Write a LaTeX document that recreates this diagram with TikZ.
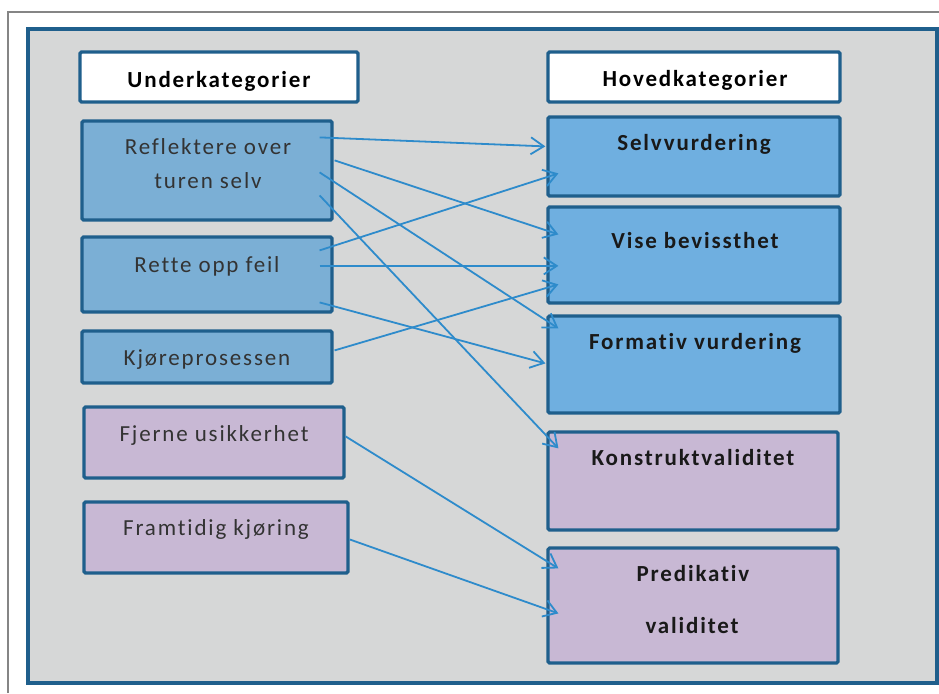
\documentclass[tikz,border=0pt]{standalone}
\usepackage{fontspec}
\setmainfont{Carlito}[LetterSpace=8, Ligatures=NoCommon]
\usetikzlibrary{arrows.meta,calc}

\definecolor{framegray}{HTML}{858585}
\definecolor{panelfill}{HTML}{D6D7D7}
\definecolor{edgeblue}{HTML}{1F5F8C}
\definecolor{subblue}{HTML}{7BAFD5}
\definecolor{mainblue}{HTML}{6FAFE0}
\definecolor{lilac}{HTML}{C8B8D4}
\definecolor{linkblue}{HTML}{2E8BCB}
\definecolor{subtext}{HTML}{333333}

\tikzset{
  box/.style={draw=edgeblue, line width=3.2pt, rounded corners=1.5pt, inner sep=0pt},
  headbox/.style={box, fill=white},
  subbox/.style={box, fill=subblue},
  mainbox/.style={box, fill=mainblue},
  valbox/.style={box, fill=lilac},
  headtxt/.style={anchor=base, inner sep=0pt, font=\fontsize{23}{27}\selectfont\bfseries, text=black},
  subtxt/.style={anchor=base, inner sep=0pt, font=\fontsize{23}{27}\selectfont, text=subtext},
  maintxt/.style={anchor=base, inner sep=0pt, font=\fontsize{23}{27}\selectfont\bfseries, text=black!90},
  link/.style={draw=linkblue, line width=1.8pt, -{Straight Barb[length=13pt,width=17pt,line width=1.8pt]}}
}

\begin{document}
\begin{tikzpicture}[x=1pt, y=-1pt]
  \useasboundingbox (0,0) rectangle (939,693);

  % outer page frame and the panel
  \draw[framegray, line width=2pt] (8,693) -- (8,12) -- (939,12);
  \draw[edgeblue, fill=panelfill, line width=3.5pt] (28,29) rectangle (937,683);

  % column headers
  \node[headbox, minimum width=278, minimum height=50] (uhead) at (219,77) {};
  \node[headtxt] (uheadt) at (219,87) {Underkategorier};
  \node[headbox, minimum width=292, minimum height=50] (hhead) at (694,77) {};
  \node[headtxt] (hheadt) at (695,86) {Hovedkategorier};

  % sub categories
  \node[subbox, minimum width=250, minimum height=99] (refl) at (207,170.5) {};
  \node[subtxt] (reflt1) at (208,154) {Reflektere over};
  \node[subtxt] (reflt2) at (208,188) {turen selv};
  \node[subbox, minimum width=250, minimum height=75] (rette) at (207,274.5) {};
  \node[subtxt] (rettet) at (207,272) {Rette opp feil};
  \node[subbox, minimum width=250, minimum height=52] (kjore) at (207,357) {};
  \node[subtxt] (kjoret) at (207,365) {Kjøreprosessen};
  \node[valbox, minimum width=260, minimum height=71] (fjern) at (214,442.5) {};
  \node[subtxt] (fjernt) at (214,441) {Fjerne usikkerhet};
  \node[valbox, minimum width=264, minimum height=71] (framt) at (216,537.5) {};
  \node[subtxt] (framtt) at (216,535) {Framtidig kjøring};

  % main categories
  \node[mainbox, minimum width=292, minimum height=79] (selv) at (694,156.5) {};
  \node[maintxt] (selvt) at (694,150) {Selvvurdering};
  \node[mainbox, minimum width=292, minimum height=96] (vise) at (694,255) {};
  \node[maintxt] (viset) at (695,248) {Vise bevissthet};
  \node[mainbox, minimum width=292, minimum height=97] (form) at (694,364.5) {};
  \node[maintxt] (formt) at (695,349) {Formativ vurdering};
  \node[valbox, minimum width=290, minimum height=98] (konst) at (693,481) {};
  \node[maintxt] (konstt) at (693,465) {Konstruktvaliditet};
  \node[valbox, minimum width=290, minimum height=115] (pred) at (693,605.5) {};
  \node[maintxt] (predt1) at (693,581) {Predikativ};
  \node[maintxt] (predt2) at (692,633) {validitet};

  % links from sub categories to main categories
  \draw[link] ($(refl.north east)+(-14,18)$) -- ($(selv.north west)+(-1,31)$);
  \draw[link] ($(refl.north east)+(1,41)$)   -- ($(vise.north west)+(12,29)$);
  \draw[link] ($(refl.north east)+(-14,53)$) -- ($(form.north west)+(12,14)$);
  \draw[link] ($(refl.north east)+(-14,76)$) -- ($(konst.north west)+(12,18)$);
  \draw[link] ($(rette.north east)+(-14,15)$) -- ($(selv.north west)+(12,58)$);
  \draw[link] ($(rette.north east)+(-14,30.5)$) -- ($(vise.north west)+(12,60.5)$);
  \draw[link] ($(rette.north east)+(-14,67)$) -- ($(form.north west)+(-1,49)$);
  \draw[link] ($(kjore.north east)+(1,21)$)   -- ($(vise.north west)+(12,79)$);
  \draw[link] ($(fjern.north east)+(0,31)$)   -- ($(pred.north west)+(12,22)$);
  \draw[link] ($(framt.north east)+(0,39)$)   -- ($(pred.north west)+(12,67)$);
\end{tikzpicture}
\end{document}
